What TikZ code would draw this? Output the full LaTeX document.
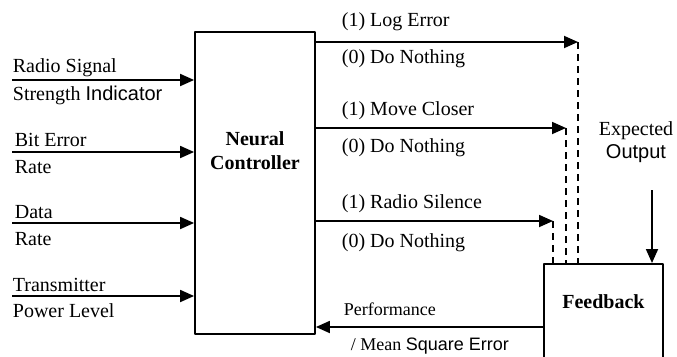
\documentclass[tikz,border=0pt]{standalone}
\usepackage{fontspec}
\setmainfont{Liberation Serif}
\newfontfamily\arialfont{Liberation Sans}
\usetikzlibrary{arrows.meta,positioning}
\begin{document}
\begin{tikzpicture}[x=1pt,y=-1pt, line width=1.8pt, line join=round, >={Triangle[length=14pt,width=12pt]}]
	\tikzset{box style/.style={draw, rectangle, inner sep=0pt},
		txt style/.style={font=\fontsize{20}{24}\selectfont, inner sep=0pt},
		small style/.style={font=\fontsize{18}{22}\selectfont, inner sep=0pt},
		dash style/.style={line width=1.6pt, dash pattern=on 7pt off 5pt}}
	\useasboundingbox (0,0) rectangle (677,356);
	\clip (0,0) rectangle (677,356);
	% blocks
	\node[box style, minimum width=120pt, minimum height=302pt] (ctrl) at (255,183) {};
	\node[txt style, font=\fontsize{20}{24}\selectfont\bfseries, align=center] (ctrltxt) at (255,151) {Neural\\Controller};
	\node[box style, minimum width=119pt, minimum height=150pt, anchor=north] (fb) at (603.5,263) {};
	\node[txt style, font=\fontsize{20}{24}\selectfont\bfseries] (fbtxt) at (603.5,302) {Feedback};
	% inputs
	\coordinate (in1) at (12,80); \coordinate (in2) at (12,152);
	\coordinate (in3) at (12,223); \coordinate (in4) at (12,296);
	\draw[->] (in1) -- (in1 -| ctrl.west);
	\draw[->] (in2) -- (in2 -| ctrl.west);
	\draw[->] (in3) -- (in3 -| ctrl.west);
	\draw[->] (in4) -- (in4 -| ctrl.west);
	\node[txt style, anchor=base west] (in1a) at (12,72) {Radio Signal};
	\node[txt style, anchor=base west] (in1b) at (12,100) {Strength {\arialfont Indicator}};
	\node[txt style, anchor=base west] (in2a) at (14,146) {Bit Error};
	\node[txt style, anchor=base west] (in2b) at (14,173) {Rate};
	\node[txt style, anchor=base west] (in3a) at (14,218) {Data};
	\node[txt style, anchor=base west] (in3b) at (14,245) {Rate};
	\node[txt style, anchor=base west] (in4a) at (12,291) {Transmitter};
	\node[txt style, anchor=base west] (in4b) at (12,317) {Power Level};
	% outputs
	\coordinate (logtip) at (578,42); \coordinate (movetip) at (566,128);
	\coordinate (radtip) at (553,221);
	\draw[->] (logtip -| ctrl.east) -- (logtip);
	\draw[->] (movetip -| ctrl.east) -- (movetip);
	\draw[->] (radtip -| ctrl.east) -- (radtip);
	\draw[dash style] (logtip) -- (logtip |- fb.north);
	\draw[dash style] (movetip) -- (movetip |- fb.north);
	\draw[dash style] (radtip) -- (radtip |- fb.north);
	\node[txt style, anchor=base west] (out1a) at (341,27) {(1) Log Error};
	\node[txt style, anchor=base west] (out1b) at (341,63) {(0) Do Nothing};
	\node[txt style, anchor=base west] (out2a) at (341,115) {(1) Move Closer};
	\node[txt style, anchor=base west] (out2b) at (341,152) {(0) Do Nothing};
	\node[txt style, anchor=base west] (out3a) at (341,208) {(1) Radio Silence};
	\node[txt style, anchor=base west] (out3b) at (341,247) {(0) Do Nothing};
	% expected output and feedback
	\node[txt style, anchor=base] (exptxt) at (636,135) {Expected};
	\node[txt style, anchor=base] (outtxt) at (636,158) {\arialfont Output};
	\coordinate (expin) at (652,190);
	\draw[->] (expin) -- (expin |- fb.north);
	\coordinate (fbout) at (544,327);
	\draw[->] (fbout) -- (fbout -| ctrl.east);
	\node[small style, anchor=base west] (perf) at (343,315) {Performance};
	\node[small style, anchor=base west] (mse) at (350,350) {/ Mean {\arialfont Square Error}};
\end{tikzpicture}
\end{document}
